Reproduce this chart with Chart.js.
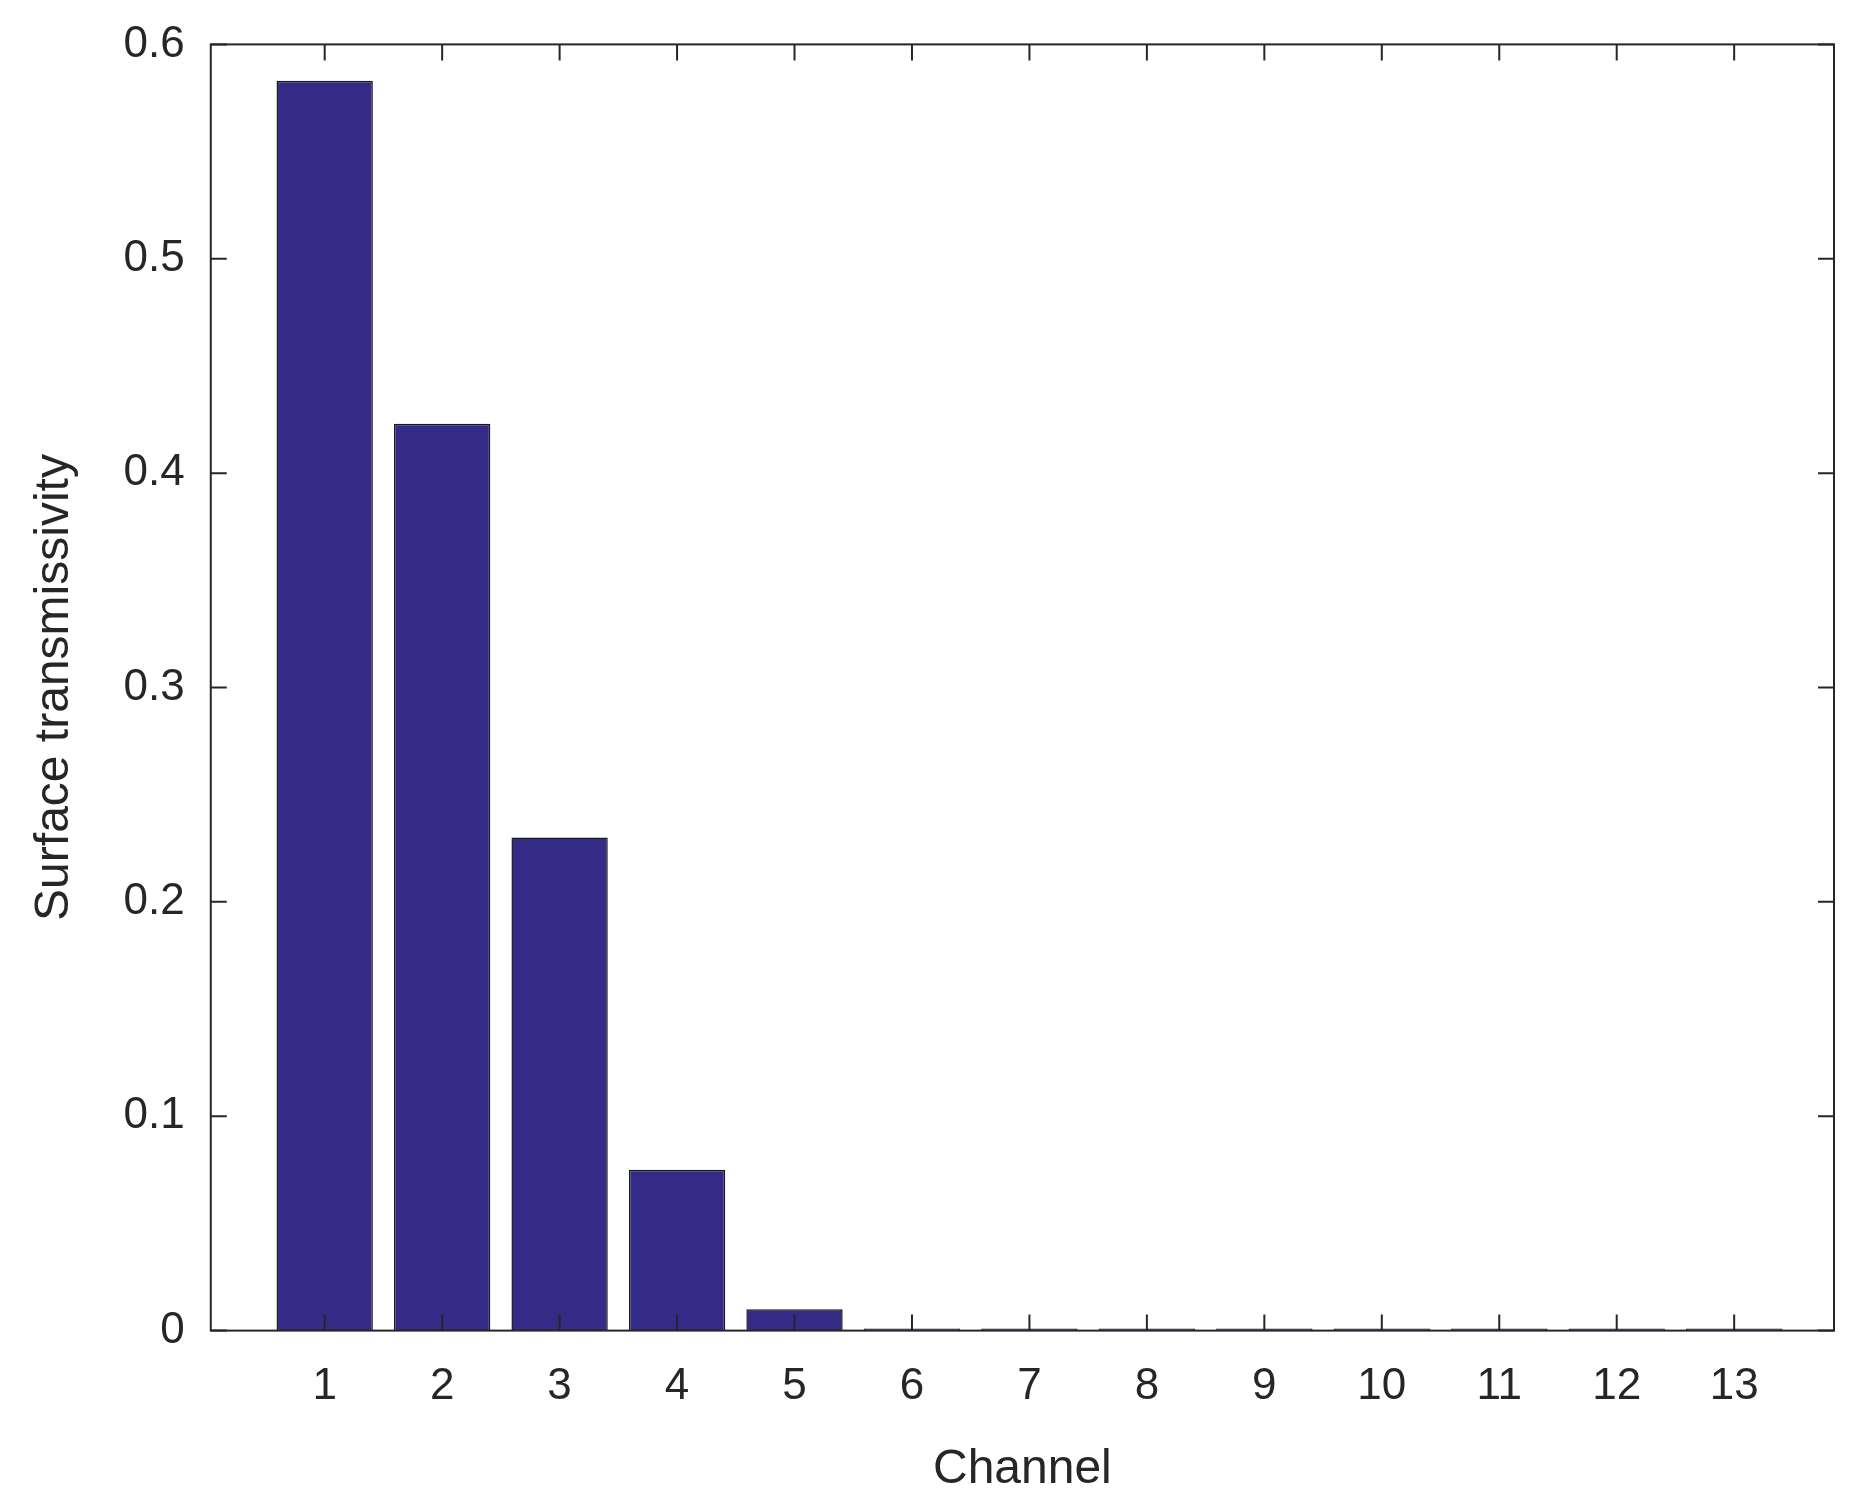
<!DOCTYPE html>
<html><head><meta charset="utf-8">
<script src="https://cdn.jsdelivr.net/npm/chart.js@4/dist/chart.umd.min.js"></script>
<style>html,body{margin:0;background:#fff}#w{width:1864px;height:1511px}</style>
</head><body><div id="w"><canvas id="c"></canvas></div>
<script>
const channels = [1,2,3,4,5,6,7,8,9,10,11,12,13];
const transmissivity = [0.583,0.423,0.230,0.075,0.010,0.001,0.001,0.001,0.001,0.001,0.001,0.001,0.001];
const yTicks = [0,0.1,0.2,0.3,0.4,0.5,0.6];
const FONT = "'Liberation Sans', Arial, sans-serif";
const frame = {
  id:'frame',
  afterDraw(ch){
    const {ctx, chartArea:a, scales:{x,y}} = ch;
    ctx.save(); ctx.strokeStyle='#262626'; ctx.lineWidth=2;
    ctx.strokeRect(a.left,a.top,a.right-a.left,a.bottom-a.top);
    ctx.beginPath();
    channels.forEach(c=>{const p=x.getPixelForValue(c);
      ctx.moveTo(p,a.bottom);ctx.lineTo(p,a.bottom-16);ctx.moveTo(p,a.top);ctx.lineTo(p,a.top+16);});
    yTicks.forEach(v=>{const p=y.getPixelForValue(v);
      ctx.moveTo(a.left,p);ctx.lineTo(a.left+16,p);ctx.moveTo(a.right,p);ctx.lineTo(a.right-16,p);});
    ctx.stroke(); ctx.restore();
  }
};
new Chart(document.getElementById('c'),{
  type:'bar',
  data:{datasets:[{data:channels.map((c,i)=>({x:c,y:transmissivity[i]})),
    backgroundColor:'#352a85',borderColor:'#1a1a1a',borderWidth:1.5,
    barPercentage:0.82,categoryPercentage:1}]},
  options:{responsive:true,maintainAspectRatio:false,animation:false,
    layout:{padding:{top:38,right:30,left:22,bottom:8}},
    plugins:{legend:{display:false},tooltip:{enabled:false}},
    scales:{
      x:{type:'linear',offset:false,min:0.03,max:13.85,grid:{display:false,offset:false},border:{display:false},
        afterBuildTicks:s=>{s.ticks=channels.map(v=>({value:v}));},
        ticks:{font:{family:FONT,size:44},color:'#262626',padding:22},
        title:{display:true,text:'Channel',font:{family:FONT,size:48},color:'#262626',padding:{top:6}}},
      y:{min:0,max:0.6,grid:{display:false},border:{display:false},
        afterBuildTicks:s=>{s.ticks=yTicks.map(v=>({value:v}));},
        ticks:{font:{family:FONT,size:44},color:'#262626',padding:18,callback:v=>String(v)},
        title:{display:true,text:'Surface transmissivity',font:{family:FONT,size:48},color:'#262626',padding:{bottom:22}}}
    }},
  plugins:[frame]
});
</script></body></html>
